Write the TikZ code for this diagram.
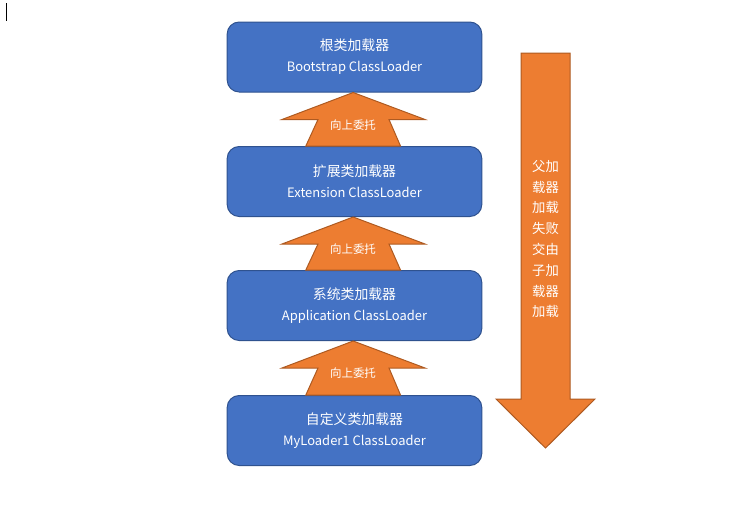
\documentclass[tikz,border=0pt]{standalone}
\usepackage{fontspec}
\setmainfont{Noto Sans CJK SC}
\newfontfamily\cjk{Noto Sans CJK SC}
\usetikzlibrary{calc}
\definecolor{boxblue}{HTML}{4472C4}
\definecolor{boxedge}{HTML}{2F528F}
\definecolor{arrorange}{HTML}{ED7D31}
\definecolor{arredge}{HTML}{AE5A21}

\tikzset{
  loader/.style={draw=boxedge,fill=boxblue,rounded corners=9pt,line width=0.75pt,
    minimum width=191pt,minimum height=52.5pt,align=center,text=white,
    font=\fontsize{9.7}{15.8}\selectfont},
  upbody/.style={fill=arrorange,draw=arredge,line width=0.75pt,line join=miter},
  uplabel/.style={text=white,font=\cjk\fontsize{8.6}{10}\selectfont,inner sep=0pt}
}

\begin{document}
\begin{tikzpicture}[x=0.75pt,y=-0.75pt]
\useasboundingbox (0,0) rectangle (747,504);
\draw[line width=0.9pt] (6.8,3) -- (6.8,21);
% loaders
\node[loader] (boot) at (354.5,57) {{\cjk\fontsize{10.4}{10}\selectfont 根类加载器}\\Bootstrap ClassLoader};
\node[loader] (ext) at (354.5,181.5) {{\cjk\fontsize{10.4}{10}\selectfont 扩展类加载器}\\Extension ClassLoader};
\node[loader] (app) at (354.5,305.5) {{\cjk\fontsize{10.4}{10}\selectfont 系统类加载器}\\Application ClassLoader};
\node[loader] (my) at (354.5,430.5) {{\cjk\fontsize{10.4}{10}\selectfont 自定义类加载器}\\MyLoader1 ClassLoader};
% delegation arrows
\foreach \lo/\hi in {ext/boot,app/ext,my/app}{
  \draw[upbody] ([xshift=-1]\hi.south) -- ([shift={(70.5,27)}]\hi.south)
    -- ([shift={(34.5,27)}]\hi.south) -- ([xshift=34.5]\lo.north)
    -- ([xshift=-36.5]\lo.north) -- ([shift={(-36.5,27)}]\hi.south)
    -- ([shift={(-72.5,27)}]\hi.south) -- cycle;
  \node[uplabel] (up-\lo) at ([shift={(-1.5,32.5)}]\hi.south) {向上委托};
}
% fallback arrow
\draw[upbody] (521,53) -- (570,53) -- (570,399) -- (595,399) -- (545.5,448)
  -- (496,399) -- (521,399) -- cycle;
\node[text=white,align=center,font=\cjk\fontsize{10}{15.6}\selectfont] (fail) at (545.5,239)
  {父加\\载器\\加载\\失败\\交由\\子加\\载器\\加载};
\end{tikzpicture}
\end{document}
